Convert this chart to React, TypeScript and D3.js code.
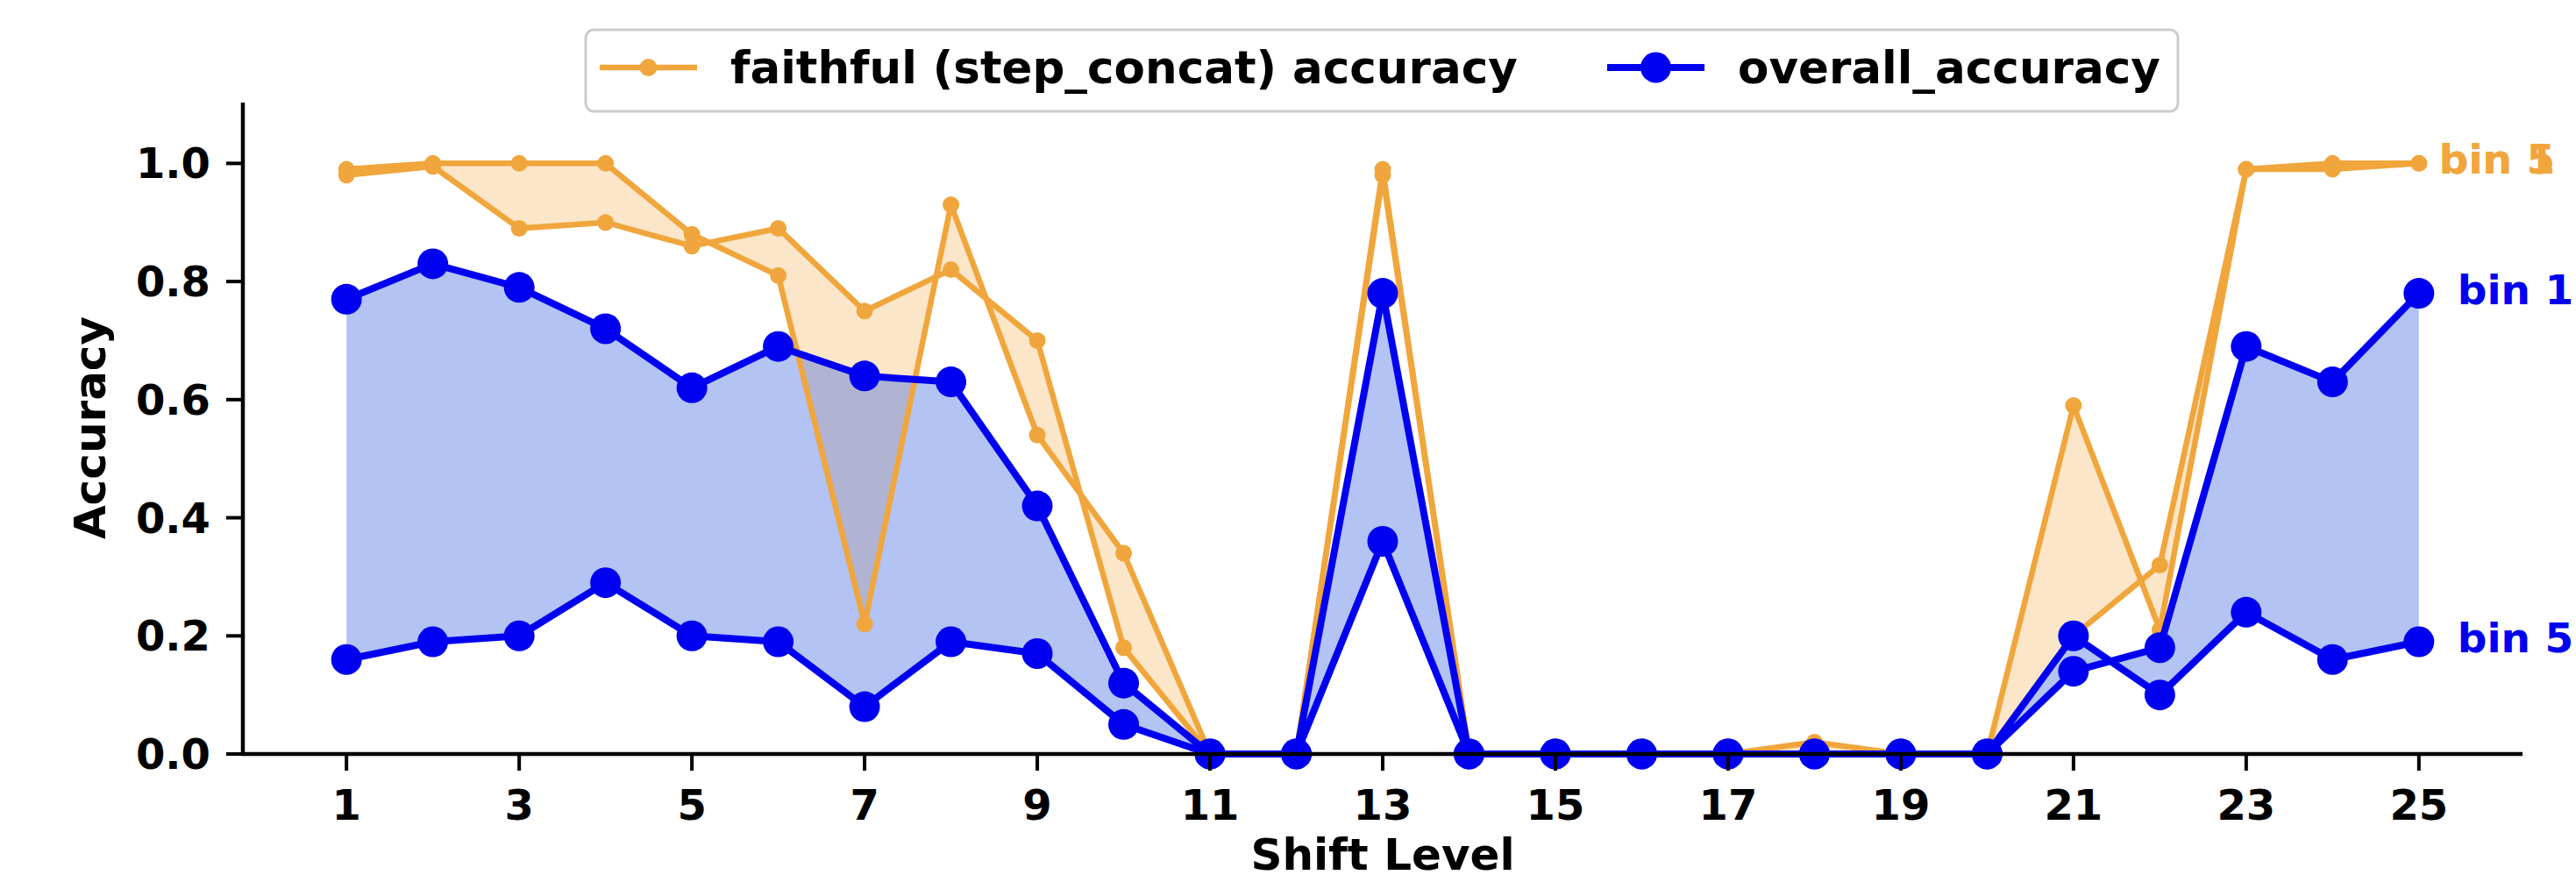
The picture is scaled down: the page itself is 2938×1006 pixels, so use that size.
import React, { useEffect, useRef } from 'react'
import * as d3 from 'd3'

const shiftLevels = [1, 2, 3, 4, 5, 6, 7, 8, 9, 10, 11, 12, 13, 14, 15, 16, 17, 18, 19, 20, 21, 22, 23, 24, 25]

// faithful (step_concat) accuracy, one line per bin
const faithfulBin1 = [0.99, 1.0, 1.0, 1.0, 0.88, 0.81, 0.22, 0.93, 0.54, 0.34, 0, 0, 0.99, 0, 0, 0, 0, 0.02, 0, 0, 0.59, 0.21, 0.99, 1.0, 1.0]
const faithfulBin5 = [0.98, 0.995, 0.89, 0.9, 0.86, 0.89, 0.75, 0.82, 0.7, 0.18, 0, 0, 0.98, 0, 0, 0, 0, 0, 0, 0, 0.2, 0.32, 0.99, 0.99, 1.0]

// overall_accuracy, one line per bin
const overallBin1 = [0.77, 0.83, 0.79, 0.72, 0.62, 0.69, 0.64, 0.63, 0.42, 0.12, 0, 0, 0.78, 0, 0, 0, 0, 0, 0, 0, 0.14, 0.18, 0.69, 0.63, 0.78]
const overallBin5 = [0.16, 0.19, 0.2, 0.29, 0.2, 0.19, 0.08, 0.19, 0.17, 0.05, 0, 0, 0.36, 0, 0, 0, 0, 0, 0, 0, 0.2, 0.1, 0.24, 0.16, 0.19]

const xTicks = [1, 3, 5, 7, 9, 11, 13, 15, 17, 19, 21, 23, 25]
const yTicks = [0, 0.2, 0.4, 0.6, 0.8, 1.0]

const W = 2938
const H = 1006
const FONT = '"DejaVu Sans", Verdana, sans-serif'
const ORANGE = '#f0a63c'
const BLUE = '#0000f0'

export default function App() {
  const svgRef = useRef(null)

  useEffect(() => {
    document.body.style.margin = '0'
    const svg = d3.select(svgRef.current)
    svg.selectAll('*').remove()

    const x = d3.scaleLinear().domain([-0.2, 26.2]).range([277, 2877])
    const y = d3.scaleLinear().domain([0, 1.1]).range([860, 119])

    const g = svg.append('g')

    const band = (lo, hi) => d3.area()
      .x((d, i) => x(shiftLevels[i]))
      .y0((d, i) => y(lo[i]))
      .y1((d, i) => y(hi[i]))(shiftLevels)

    const line = (vals) => d3.line()
      .x((d, i) => x(shiftLevels[i]))
      .y((d, i) => y(vals[i]))(shiftLevels)

    // fills first, then lines on top
    g.append('path').attr('d', band(faithfulBin5, faithfulBin1))
      .attr('fill', ORANGE).attr('fill-opacity', 0.28)
    g.append('path').attr('d', band(overallBin5, overallBin1))
      .attr('fill', 'royalblue').attr('fill-opacity', 0.4)

    const drawSeries = (vals, color, lw, r) => {
      g.append('path').attr('d', line(vals))
        .attr('fill', 'none').attr('stroke', color)
        .attr('stroke-width', lw).attr('stroke-linejoin', 'round')
      g.append('g').selectAll('circle')
        .data(vals)
        .enter()
        .append('circle')
        .attr('cx', (d, i) => x(shiftLevels[i]))
        .attr('cy', d => y(d))
        .attr('r', r)
        .attr('fill', color)
    }

    drawSeries(faithfulBin1, ORANGE, 6.5, 9.5)
    drawSeries(faithfulBin5, ORANGE, 6.5, 9.5)
    drawSeries(overallBin1, BLUE, 8, 17.5)
    drawSeries(overallBin5, BLUE, 8, 17.5)

    // end labels
    const last = shiftLevels.length - 1
    const endLabels = [
      { text: 'bin 1', v: faithfulBin1[last], color: ORANGE, dx: 23 },
      { text: 'bin 5', v: faithfulBin5[last], color: ORANGE, dx: 23 },
      { text: 'bin 1', v: overallBin1[last], color: BLUE, dx: 44 },
      { text: 'bin 5', v: overallBin5[last], color: BLUE, dx: 44 },
    ]
    g.append('g').selectAll('text')
      .data(endLabels)
      .enter()
      .append('text')
      .attr('x', d => x(shiftLevels[last]) + d.dx)
      .attr('y', d => y(d.v) + 12)
      .attr('fill', d => d.color)
      .attr('font-family', FONT)
      .attr('font-weight', 'bold')
      .attr('font-size', 47)
      .text(d => d.text)

    // spines
    const [x0, x1] = x.range()
    g.append('line').attr('x1', x0).attr('x2', x0).attr('y1', 117).attr('y2', 860)
      .attr('stroke', 'black').attr('stroke-width', 4.5)
    g.append('line').attr('x1', x0 - 2).attr('x2', x1).attr('y1', 860).attr('y2', 860)
      .attr('stroke', 'black').attr('stroke-width', 4.5)

    // x ticks
    const xt = g.append('g').selectAll('g').data(xTicks).enter().append('g')
    xt.append('line')
      .attr('x1', d => x(d)).attr('x2', d => x(d))
      .attr('y1', 860).attr('y2', 879)
      .attr('stroke', 'black').attr('stroke-width', 4)
    xt.append('text')
      .attr('x', d => x(d)).attr('y', 935)
      .attr('text-anchor', 'middle')
      .attr('font-family', FONT).attr('font-weight', 'bold').attr('font-size', 48)
      .text(d => d)

    // y ticks
    const yt = g.append('g').selectAll('g').data(yTicks).enter().append('g')
    yt.append('line')
      .attr('x1', x0 - 19).attr('x2', x0)
      .attr('y1', d => y(d)).attr('y2', d => y(d))
      .attr('stroke', 'black').attr('stroke-width', 4)
    yt.append('text')
      .attr('x', 240).attr('y', d => y(d) + 17)
      .attr('text-anchor', 'end')
      .attr('font-family', FONT).attr('font-weight', 'bold').attr('font-size', 48)
      .text(d => d.toFixed(1))

    // axis titles
    g.append('text')
      .attr('x', (x0 + x1) / 2).attr('y', 992)
      .attr('text-anchor', 'middle')
      .attr('font-family', FONT).attr('font-weight', 'bold').attr('font-size', 50)
      .text('Shift Level')
    g.append('text')
      .attr('transform', 'translate(120,488) rotate(-90)')
      .attr('text-anchor', 'middle')
      .attr('font-family', FONT).attr('font-weight', 'bold').attr('font-size', 50)
      .text('Accuracy')

    // legend
    const leg = g.append('g')
    leg.append('rect')
      .attr('x', 668).attr('y', 34).attr('width', 1816).attr('height', 93)
      .attr('rx', 9)
      .attr('fill', 'white').attr('stroke', '#cccccc').attr('stroke-width', 3)
    const legendItems = [
      { label: 'faithful (step_concat) accuracy', color: ORANGE, lw: 6.5, r: 10, x: 684 },
      { label: 'overall_accuracy', color: BLUE, lw: 8, r: 17.5, x: 1833 },
    ]
    legendItems.forEach(it => {
      leg.append('line')
        .attr('x1', it.x).attr('x2', it.x + 111).attr('y1', 77).attr('y2', 77)
        .attr('stroke', it.color).attr('stroke-width', it.lw)
      leg.append('circle')
        .attr('cx', it.x + 55.5).attr('cy', 77).attr('r', it.r).attr('fill', it.color)
      leg.append('text')
        .attr('x', it.x + 149).attr('y', 95)
        .attr('font-family', FONT).attr('font-weight', 'bold').attr('font-size', 51.5)
        .text(it.label)
    })
  }, [])

  return (
    <svg
      ref={svgRef}
      width={W}
      height={H}
      style={{ position: 'absolute', top: 0, left: 0, display: 'block', background: 'white' }}
    />
  )
}
